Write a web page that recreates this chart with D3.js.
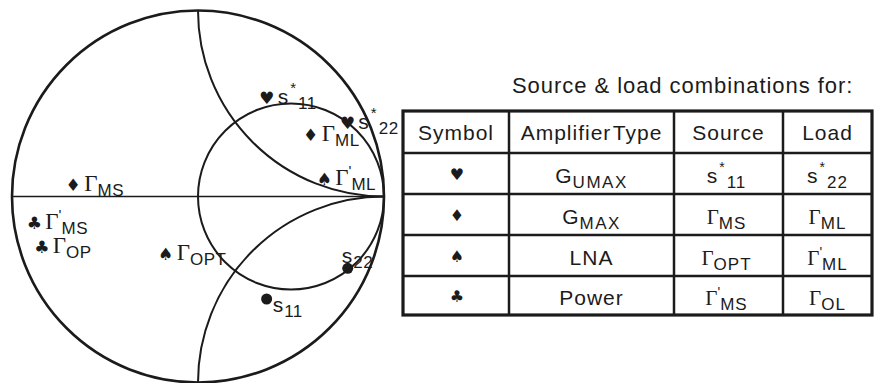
<!DOCTYPE html>
<html lang="en">
<head>
<meta charset="utf-8">
<title>Smith chart - source and load combinations</title>
<script src="https://d3js.org/d3.v7.min.js"></script>
<style>
  body { margin: 0; background: #fff; }
  svg { display: block; }
</style>
</head>
<body>
<div id="chart"></div>
<script>
// ---- data (reflection coefficients, re / im) ----
const pointSuit = ["♥", "♥", "♦", "♦", "♠", "♠", "♣", "♣", "●", "●"];
const pointRe   = [0.369, 0.803, -0.671, 0.606, -0.174, 0.679, -0.880, -0.840, 0.369, 0.805];
const pointIm   = [0.530, 0.393, 0.062, 0.331, -0.309, 0.094, -0.144, -0.274, -0.551, -0.386];
const pointBase = ["s", "s", "Γ", "Γ", "Γ", "Γ", "Γ", "Γ", "s", "s"];
const pointSup  = ["*", "*", "", "", "", "'", "'", "", "", ""];
const pointSub  = ["11", "22", "MS", "ML", "OPT", "ML", "MS", "OP", "11", "22"];

// chart grid: constant resistance r = 1, reactance x = +1 / -1
const resistanceCircles = [1];
const reactanceArcs = [1, -1];

// table
const tableTitle = "Source & load combinations for:";
const tableHeaders = ["Symbol", "Amplifier Type", "Source", "Load"];
const rowSuit = ["♥", "♦", "♠", "♣"];
const ampMain = ["G", "G", "LNA", "Power"];
const ampSub = ["UMAX", "MAX", "", ""];
const sourceBase = ["s", "Γ", "Γ", "Γ"];
const sourceSup = ["*", "", "", "'"];
const sourceSub = ["11", "MS", "OPT", "MS"];
const loadBase = ["s", "Γ", "Γ", "Γ"];
const loadSup = ["*", "", "'", ""];
const loadSub = ["22", "ML", "ML", "OL"];

const W = 874, H = 383;
const ink = "#1b1b1b";
const SANS = "'Liberation Sans', Arial, sans-serif";
const SERIF = "'Liberation Serif', 'Times New Roman', serif";
const SYM = "'DejaVu Sans', sans-serif";

const svg = d3.select("#chart").append("svg")
  .attr("width", W).attr("height", H)
  .attr("viewBox", `0 0 ${W} ${H}`);

// ---- Smith chart ----
const cx = 198, cy = 196.5, R = 186;
const x = d3.scaleLinear().domain([-1, 1]).range([cx - R, cx + R]);
const y = d3.scaleLinear().domain([-1, 1]).range([cy + R, cy - R]);
const len = d => x(d) - x(0);

svg.append("clipPath").attr("id", "unit")
  .append("circle").attr("cx", x(0)).attr("cy", y(0)).attr("r", len(1));

const chart = svg.append("g");

chart.append("line")
  .attr("x1", x(-1)).attr("x2", x(1))
  .attr("y1", y(0)).attr("y2", y(0))
  .attr("stroke", ink).attr("stroke-width", 1.5);

// r circles: centre r/(1+r), radius 1/(1+r)
chart.selectAll("circle.res").data(resistanceCircles).enter()
  .append("circle").attr("class", "res")
  .attr("cx", r => x(r / (1 + r))).attr("cy", y(0))
  .attr("r", r => len(1 / (1 + r)))
  .attr("fill", "none").attr("stroke", ink).attr("stroke-width", 2);

// x arcs: centre (1, 1/x), radius 1/|x|
chart.selectAll("circle.reac").data(reactanceArcs).enter()
  .append("circle").attr("class", "reac")
  .attr("clip-path", "url(#unit)")
  .attr("cx", x(1)).attr("cy", v => y(1 / v))
  .attr("r", v => len(1 / Math.abs(v)))
  .attr("fill", "none").attr("stroke", ink).attr("stroke-width", 2);

chart.append("circle")
  .attr("cx", x(0)).attr("cy", y(0)).attr("r", len(1))
  .attr("fill", "none").attr("stroke", ink).attr("stroke-width", 2.6);

// rich text helper: parts = [{t, fam, size, shift, ls}]
function rich(sel, px, py, parts, anchor) {
  const t = sel.append("text")
    .attr("x", px).attr("y", py)
    .attr("text-anchor", anchor || "start")
    .attr("fill", ink);
  let prev = 0;
  parts.forEach(p => {
    t.append("tspan")
      .attr("dy", p.shift - prev)
      .attr("dx", p.dx || 0)
      .style("font-family", p.fam)
      .style("font-size", p.size + "px")
      .style("letter-spacing", (p.ls || 0) + "px")
      .text(p.t);
    prev = p.shift;
  });
  return t;
}

function gammaParts(base, sup, sub, o) {
  const parts = [];
  if (base === "Γ") parts.push({ t: "Γ", fam: SERIF, size: o.gamma, shift: 0 });
  else parts.push({ t: base, fam: SANS, size: o.s, shift: 0, ls: 1 });
  if (sup === "*") parts.push({ t: "*", fam: SANS, size: o.sup, shift: -o.starRaise, dx: 1, ls: 2 });
  if (sup === "'") parts.push({ t: "'", fam: SANS, size: o.sup, shift: -o.primeRaise });
  if (sub) parts.push({ t: sub, fam: SANS, size: o.sub, shift: o.drop, ls: o.subLs });
  return parts;
}

const pts = pointSuit.map((s, i) => ({
  suit: s, re: pointRe[i], im: pointIm[i],
  base: pointBase[i], sup: pointSup[i], sub: pointSub[i]
}));

// dots for s11 / s22
chart.selectAll("circle.dot").data(pts.filter(d => d.suit === "●")).enter()
  .append("circle").attr("class", "dot")
  .attr("cx", d => x(d.re)).attr("cy", d => y(d.im)).attr("r", 5.5)
  .attr("fill", ink);

// card-suit markers
chart.selectAll("text.suit").data(pts.filter(d => d.suit !== "●")).enter()
  .append("text").attr("class", "suit")
  .attr("x", d => x(d.re)).attr("y", d => y(d.im) + 6)
  .attr("text-anchor", "middle")
  .style("font-family", SYM).style("font-size", "17px")
  .attr("fill", ink)
  .text(d => d.suit);

const chartFont = { gamma: 23, s: 21, sup: 15, sub: 17, drop: 5, starRaise: 11, primeRaise: 9, subLs: 0.5 };
pts.forEach(d => {
  let dx = 11, dy = 6;
  if (d.suit === "●" && d.im < -0.5) { dx = 6; dy = 13; }
  else if (d.suit === "●") { dx = -6; dy = -5; }
  rich(chart, x(d.re) + dx, y(d.im) + dy, gammaParts(d.base, d.sup, d.sub, chartFont));
});

// ---- table ----
const colEdges = [403, 509, 674, 783, 872];
const rowEdges = [111, 153, 194, 235, 276, 315];
const colMid = d3.range(4).map(i => (colEdges[i] + colEdges[i + 1]) / 2);
const rowMid = d3.range(5).map(i => (rowEdges[i] + rowEdges[i + 1]) / 2);

const tbl = svg.append("g");

tbl.append("text")
  .attr("x", 512).attr("y", 93)
  .style("font-family", SANS).style("font-size", "22px")
  .style("letter-spacing", "0.95px")
  .attr("fill", ink)
  .text(tableTitle);

tbl.selectAll("line.row").data(rowEdges.slice(1, -1)).enter()
  .append("line").attr("class", "row")
  .attr("x1", colEdges[0]).attr("x2", colEdges[4])
  .attr("y1", d => d).attr("y2", d => d)
  .attr("stroke", ink).attr("stroke-width", 2.5);

tbl.selectAll("line.col").data(colEdges.slice(1, -1)).enter()
  .append("line").attr("class", "col")
  .attr("y1", rowEdges[0]).attr("y2", rowEdges[5])
  .attr("x1", d => d).attr("x2", d => d)
  .attr("stroke", ink).attr("stroke-width", 2.5);

tbl.append("rect")
  .attr("x", colEdges[0]).attr("y", rowEdges[0])
  .attr("width", colEdges[4] - colEdges[0]).attr("height", rowEdges[5] - rowEdges[0])
  .attr("fill", "none").attr("stroke", ink).attr("stroke-width", 3.2);

tableHeaders.forEach((h, i) => {
  tbl.append("text")
    .attr("x", colMid[i]).attr("y", rowMid[0] + 8)
    .attr("text-anchor", "middle")
    .style("font-family", SANS).style("font-size", "21px")
    .style("letter-spacing", "1px")
    .style("word-spacing", i === 1 ? "-5px" : "0px")
    .attr("fill", ink)
    .text(h);
});

const tableFont = { gamma: 21, s: 21, sup: 14, sub: 17, drop: 5, starRaise: 11, primeRaise: 8, subLs: 1 };
rowSuit.forEach((s, i) => {
  const base = rowMid[i + 1] + 9;
  tbl.append("text")
    .attr("x", colMid[0] + 1).attr("y", base - 3)
    .attr("text-anchor", "middle")
    .style("font-family", SYM).style("font-size", "16px")
    .attr("fill", ink).text(s);

  const amp = [{ t: ampMain[i], fam: SANS, size: 21, shift: 0, ls: 1 }];
  if (ampSub[i]) amp.push({ t: ampSub[i], fam: SANS, size: 17, shift: 5, ls: 1.5 });
  rich(tbl, colMid[1], base, amp, "middle");

  rich(tbl, colMid[2] - 2, base, gammaParts(sourceBase[i], sourceSup[i], sourceSub[i], tableFont), "middle");
  rich(tbl, colMid[3], base, gammaParts(loadBase[i], loadSup[i], loadSub[i], tableFont), "middle");
});
</script>
</body>
</html>
